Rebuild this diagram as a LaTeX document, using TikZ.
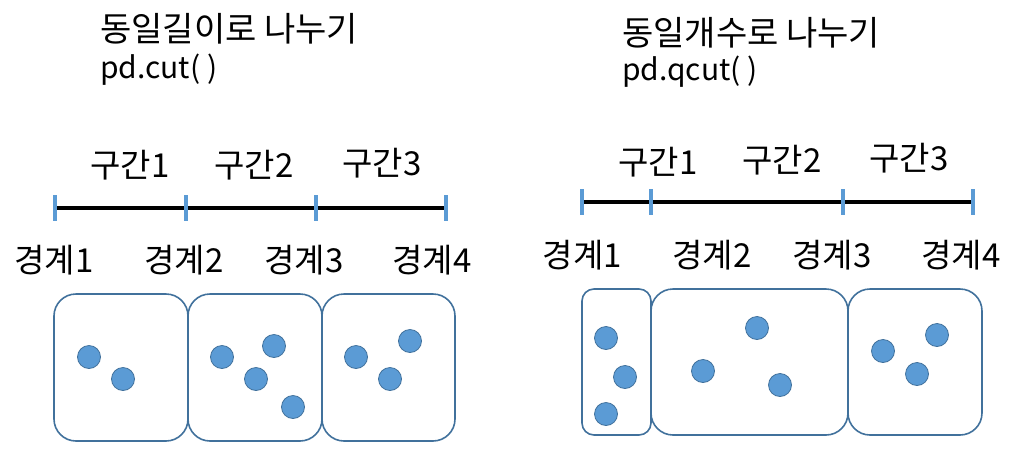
\documentclass[tikz,border=0pt]{standalone}
\usepackage{fontspec}
\setmainfont{Noto Sans CJK KR}
\usetikzlibrary{positioning}
\definecolor{TickBlue}{HTML}{5B9BD5}
\definecolor{DotBlue}{HTML}{5B9BD5}
\definecolor{EdgeBlue}{HTML}{41719C}

\begin{document}
\begin{tikzpicture}[x=1pt,y=-1pt]
			\tikzstyle{Title}	= [anchor=west, inner sep=0pt, font=\fontsize{34}{40}\selectfont]
			\tikzstyle{Func}	= [anchor=west, inner sep=0pt, font=\fontsize{30}{36}\selectfont]
			\tikzstyle{Label}	= [inner sep=0pt, font=\fontsize{33}{40}\selectfont]
			\tikzstyle{Tick}	= [rectangle, fill=TickBlue, minimum width=3.5pt, minimum height=26pt, inner sep=0pt]
			\tikzstyle{Axis}	= [line width=4pt, black]
			\tikzstyle{Bin}		= [rectangle, draw=EdgeBlue, line width=1.6pt, inner sep=0pt, rounded corners=22pt]
			\tikzstyle{Thin}	= [rounded corners=12pt]
			\tikzstyle{Dot}		= [circle, draw=EdgeBlue, fill=DotBlue, line width=0.8pt, minimum size=23pt, inner sep=0pt]

			\useasboundingbox (0,0) rectangle (1015,448);

			% equal width: pd.cut
			\node (tcut) at (100,29) [Title] {동일길이로 나누기};
			\node (fcut) at (100,70) [Func] {pd.cut( )};

			\node (L1) at (55,208) [Tick] {};
			\node (L2) at (186,208) [Tick] {};
			\node (L3) at (316,208) [Tick] {};
			\node (L4) at (446,208) [Tick] {};
			\draw (L1) to (L2) [Axis];
			\draw (L2) to (L3) [Axis];
			\draw (L3) to (L4) [Axis];

			\node (li1) at (130,165) [Label] {구간1};
			\node (li2) at (254,165) [Label] {구간2};
			\node (li3) at (382,163) [Label] {구간3};

			\node (lb1) at (54,260) [Label] {경계1};
			\node (lb2) at (184,260) [Label] {경계2};
			\node (lb3) at (304,260) [Label] {경계3};
			\node (lb4) at (432,260) [Label] {경계4};

			\node (lbox1) at (121,367.5) [Bin, minimum width=134pt, minimum height=147pt] {};
			\node (lbox2) at (255,367.5) [Bin, minimum width=134pt, minimum height=147pt] {};
			\node (lbox3) at (388.5,367.5) [Bin, minimum width=133pt, minimum height=147pt] {};

			\node (ld1) at (89,357) [Dot] {};
			\node (ld2) at (123,379) [Dot] {};
			\node (ld3) at (222,357) [Dot] {};
			\node (ld4) at (274,346) [Dot] {};
			\node (ld5) at (256,379) [Dot] {};
			\node (ld6) at (293,407) [Dot] {};
			\node (ld7) at (356,357) [Dot] {};
			\node (ld8) at (410,341) [Dot] {};
			\node (ld9) at (390,379) [Dot] {};

			% equal count: pd.qcut
			\node (tqcut) at (622,33) [Title] {동일개수로 나누기};
			\node (fqcut) at (622,72) [Func] {pd.qcut( )};

			\node (R1) at (582,202) [Tick] {};
			\node (R2) at (651,202) [Tick] {};
			\node (R3) at (843,202) [Tick] {};
			\node (R4) at (973,202) [Tick] {};
			\draw (R1) to (R2) [Axis];
			\draw (R2) to (R3) [Axis];
			\draw (R3) to (R4) [Axis];

			\node (ri1) at (658,162) [Label] {구간1};
			\node (ri2) at (782,160) [Label] {구간2};
			\node (ri3) at (909,158) [Label] {구간3};

			\node (rb1) at (582.5,255) [Label] {경계1};
			\node (rb2) at (712,255) [Label] {경계2};
			\node (rb3) at (832,255) [Label] {경계3};
			\node (rb4) at (961,255) [Label] {경계4};

			\node (rbox1) at (616.5,362) [Bin, Thin, minimum width=69pt, minimum height=146pt] {};
			\node (rbox2) at (749.5,362) [Bin, minimum width=197pt, minimum height=146pt] {};
			\node (rbox3) at (915,362) [Bin, minimum width=134pt, minimum height=146pt] {};

			\node (rd1) at (606,338) [Dot] {};
			\node (rd2) at (625,377) [Dot] {};
			\node (rd3) at (606,414) [Dot] {};
			\node (rd4) at (757,328) [Dot] {};
			\node (rd5) at (703,371) [Dot] {};
			\node (rd6) at (780,385) [Dot] {};
			\node (rd7) at (883,351) [Dot] {};
			\node (rd8) at (937,335) [Dot] {};
			\node (rd9) at (917,374) [Dot] {};
\end{tikzpicture}
\end{document}
